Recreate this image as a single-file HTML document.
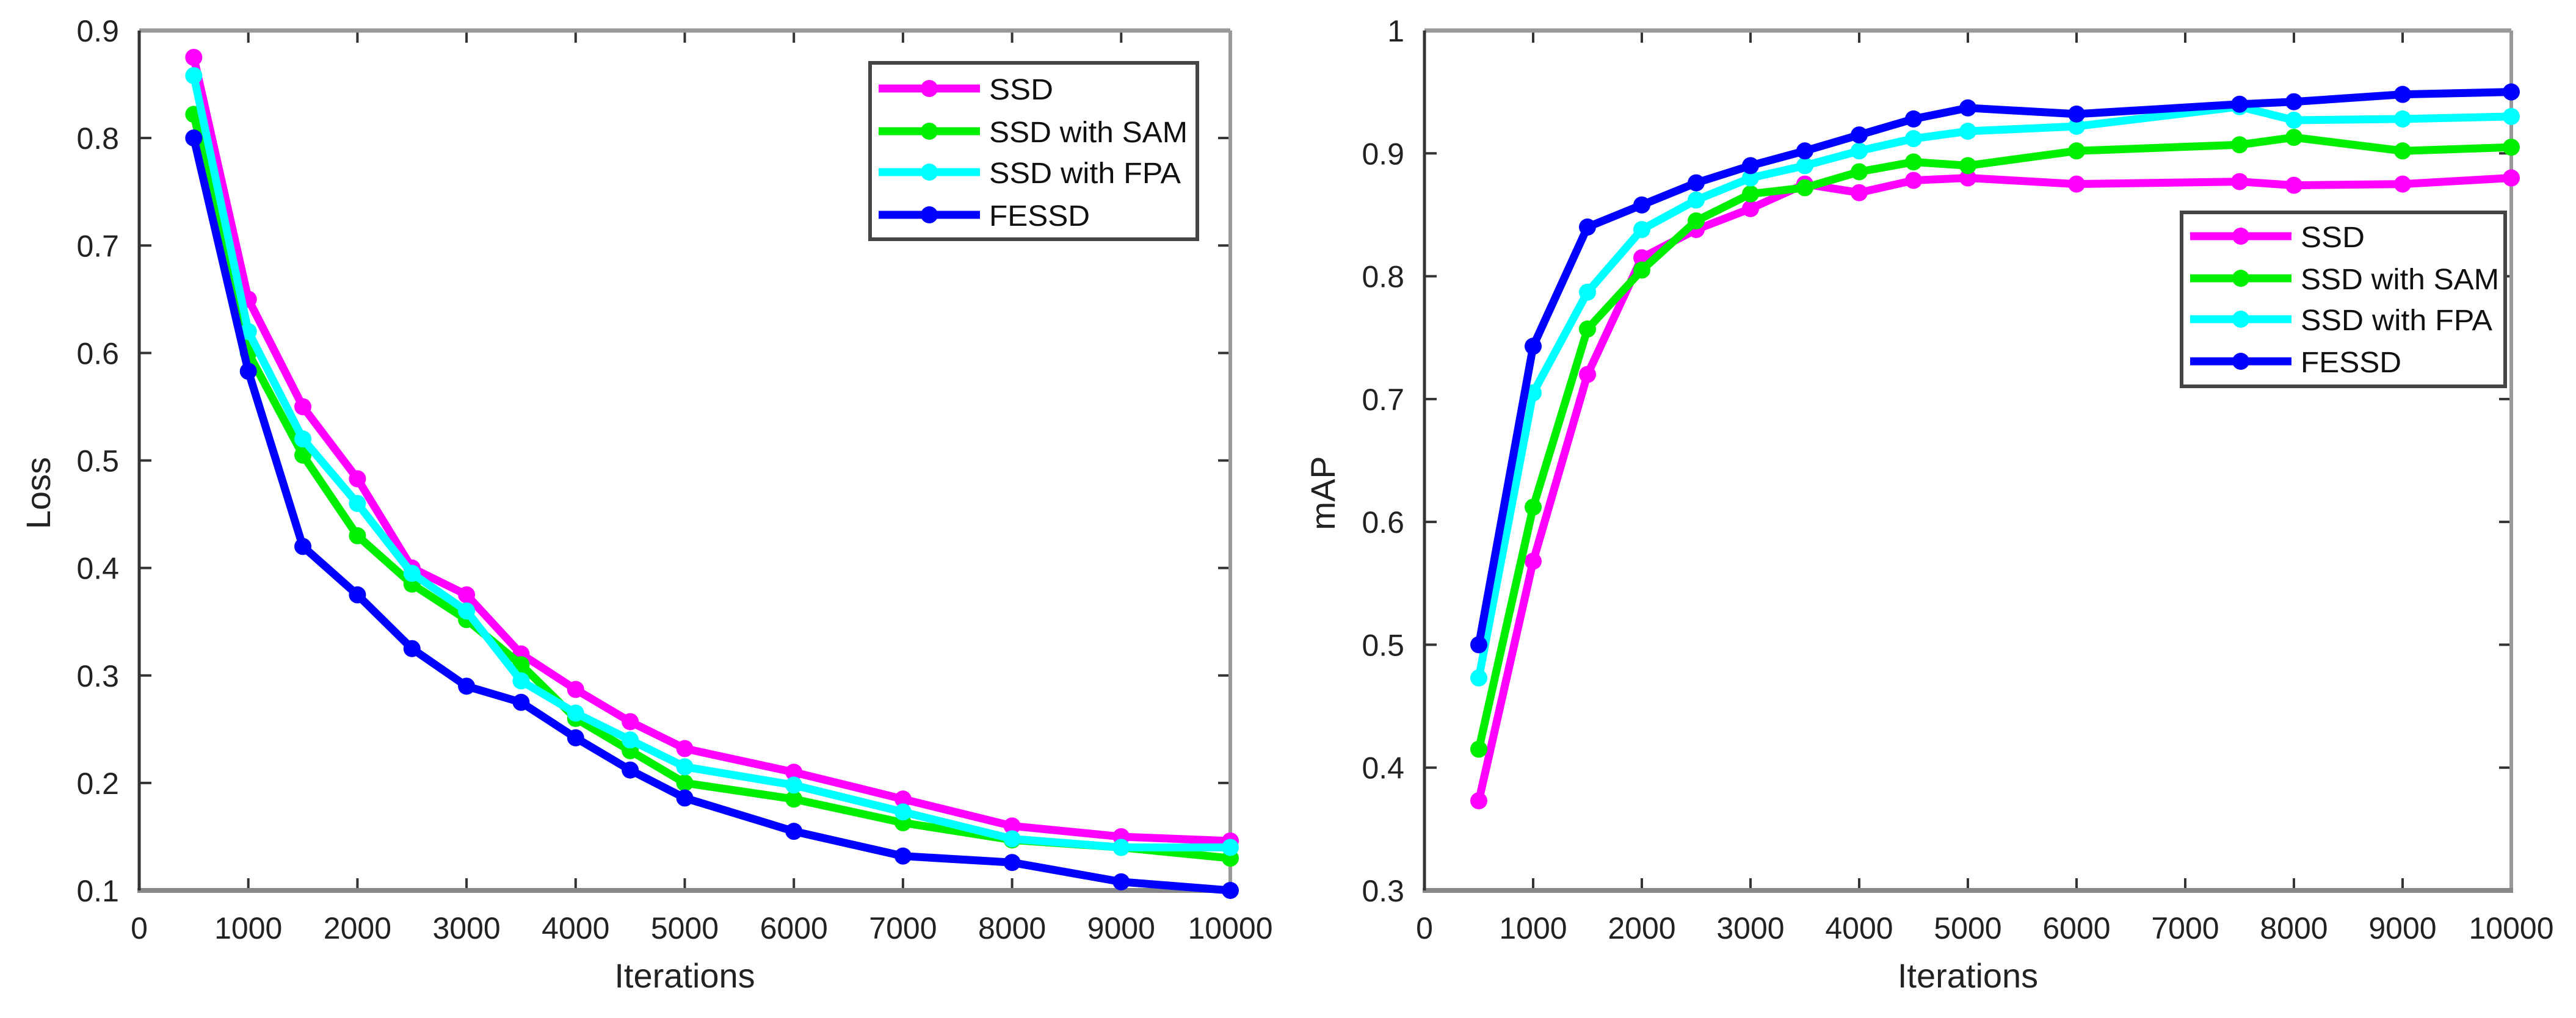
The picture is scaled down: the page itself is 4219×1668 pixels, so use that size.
<!DOCTYPE html>
<html><head><meta charset="utf-8"><style>
html,body{margin:0;padding:0;background:#fff;}
svg{display:block;font-family:"Liberation Sans",Arial,sans-serif;}
</style></head><body>
<svg id="fig" width="4219" height="1668" viewBox="0 0 4219 1668" xmlns="http://www.w3.org/2000/svg">
<rect width="4219" height="1668" fill="#fff"/>
</svg>
<script>
// ---- Loss chart data ----
const lossIters = [500,1000,1500,2000,2500,3000,3500,4000,4500,5000,6000,7000,8000,9000,10000];
const lossSSD   = [0.875,0.65,0.55,0.483,0.40,0.375,0.32,0.287,0.257,0.232,0.21,0.185,0.16,0.15,0.146];
const lossSAM   = [0.822,0.60,0.505,0.43,0.385,0.352,0.31,0.26,0.23,0.20,0.185,0.163,0.147,0.14,0.13];
const lossFPA   = [0.858,0.62,0.52,0.46,0.395,0.36,0.295,0.265,0.24,0.215,0.198,0.173,0.148,0.14,0.14];
const lossFESSD = [0.80,0.583,0.42,0.375,0.325,0.29,0.275,0.242,0.212,0.186,0.155,0.132,0.126,0.108,0.10];
const lossYTicks = [0.1,0.2,0.3,0.4,0.5,0.6,0.7,0.8,0.9];
// ---- mAP chart data ----
const mapIters = [500,1000,1500,2000,2500,3000,3500,4000,4500,5000,6000,7500,8000,9000,10000];
const mapSSD   = [0.373,0.568,0.72,0.815,0.838,0.855,0.875,0.868,0.878,0.88,0.875,0.877,0.874,0.875,0.88];
const mapSAM   = [0.415,0.612,0.757,0.805,0.845,0.867,0.872,0.885,0.893,0.89,0.902,0.907,0.913,0.902,0.905];
const mapFPA   = [0.473,0.705,0.787,0.838,0.862,0.88,0.89,0.902,0.912,0.918,0.922,0.938,0.927,0.928,0.93];
const mapFESSD = [0.50,0.743,0.84,0.858,0.876,0.89,0.902,0.915,0.928,0.937,0.932,0.94,0.942,0.948,0.95];
const mapYTicks = [0.3,0.4,0.5,0.6,0.7,0.8,0.9,1];
const xTicks = [0,1000,2000,3000,4000,5000,6000,7000,8000,9000,10000];
const seriesNames = ["SSD","SSD with SAM","SSD with FPA","FESSD"];
const seriesColors = ["#ff00ff","#00ee00","#00ffff","#0000ff"];
const legendTextWidths = [105,325,314,165];

const NS="http://www.w3.org/2000/svg";
const svg=document.getElementById('fig');
function mk(tag,attrs,parent){const e=document.createElementNS(NS,tag);for(const k in attrs)e.setAttribute(k,attrs[k]);(parent||svg).appendChild(e);return e;}

function chart(cfg){
  const g=mk('g',{});
  
  
  const L=cfg.left,R=cfg.right,T=50,B=1459;
  const xs=v=>L+(v-0)/(10000-0)*(R-L);
  const ys=v=>B-(v-cfg.ymin)/(cfg.ymax-cfg.ymin)*(B-T);
  xTicks.forEach(t=>{
    const x=xs(t);
    const tk=mk('line',{x1:x,y1:B,x2:x,y2:B-20,stroke:'#333','stroke-width':4},g);
    
    
    mk('line',{x1:x,y1:T,x2:x,y2:T+20,stroke:'#333','stroke-width':4},g);
    const tx=mk('text',{x:x,y:1538,'font-size':50,'text-anchor':'middle',fill:'#222'},g);
    tx.textContent=String(t);
    
    
  });
  cfg.yticks.forEach(t=>{
    const y=ys(t);
    mk('line',{x1:L,y1:y,x2:L+20,y2:y,stroke:'#333','stroke-width':4},g);
    mk('line',{x1:R,y1:y,x2:R-20,y2:y,stroke:'#333','stroke-width':4},g);
    const tx=mk('text',{x:L-33,y:y+18,'font-size':50,'text-anchor':'end',fill:'#222'},g);
    tx.textContent=String(t);
    
    
  });
  mk('line',{x1:L,y1:T,x2:R,y2:T,stroke:'#999','stroke-width':7},g);
  mk('line',{x1:R,y1:T,x2:R,y2:B,stroke:'#999','stroke-width':6},g);
  const xa=mk('line',{x1:L-3,y1:B,x2:R+3,y2:B,stroke:'#888','stroke-width':8},g);
  
  
  const ya=mk('line',{x1:L,y1:T,x2:L,y2:B,stroke:'#333','stroke-width':5},g);
  
  
  cfg.series.forEach((vals,i)=>{
    const sg=mk('g',{},g);
    
    
    const pts=vals.map((v,j)=>xs(cfg.iters[j])+','+ys(v)).join(' ');
    mk('polyline',{points:pts,fill:'none',stroke:seriesColors[i],'stroke-width':13,'stroke-linejoin':'round'},sg);
    vals.forEach((v,j)=>{
      const c=mk('circle',{cx:xs(cfg.iters[j]),cy:ys(v),r:14,fill:seriesColors[i]},sg);
      
      
    });
  });
  const xt=mk('text',{x:(L+R)/2,y:1618,'font-size':56,'text-anchor':'middle',fill:'#222'},g);
  xt.textContent='Iterations';
  
  
  const yt=mk('text',{x:0,y:0,'font-size':56,'text-anchor':'middle',fill:'#222',transform:`translate(${cfg.ytx},808) rotate(-90)`},g);
  yt.textContent=cfg.ytitle;
  
  
  const lg=mk('g',{},g);
  
  
  const lb=cfg.legend;
  mk('rect',{x:lb.x,y:lb.y,width:lb.w,height:lb.h,fill:'#fff',stroke:'#444','stroke-width':6},lg);
  seriesNames.forEach((n,i)=>{
    const ry=lb.rows[i];
    const eg=mk('g',{},lg);
    
    
    mk('line',{x1:lb.x+14,y1:ry,x2:lb.x+180,y2:ry,stroke:seriesColors[i],'stroke-width':13},eg);
    mk('circle',{cx:lb.x+97,cy:ry,r:14,fill:seriesColors[i]},eg);
    const t=mk('text',{x:lb.x+195,y:ry+18,'font-size':48,fill:'#111',textLength:legendTextWidths[i],lengthAdjust:'spacingAndGlyphs'},eg);
    t.textContent=n;
  });
}

chart({name:'loss-chart',left:228,right:2015,ymin:0.1,ymax:0.9,yticks:lossYTicks,iters:lossIters,
  series:[lossSSD,lossSAM,lossFPA,lossFESSD],ytitle:'Loss',ytx:82,
  legend:{x:1425,y:103,w:536,h:289,rows:[145,215,282,352]}});
chart({name:'map-chart',left:2333,right:4113,ymin:0.3,ymax:1,yticks:mapYTicks,iters:mapIters,
  series:[mapSSD,mapSAM,mapFPA,mapFESSD],ytitle:'mAP',ytx:2186,
  legend:{x:3573,y:348,w:530,h:285,rows:[387,456,523,592]}});
</script>
</body></html>
